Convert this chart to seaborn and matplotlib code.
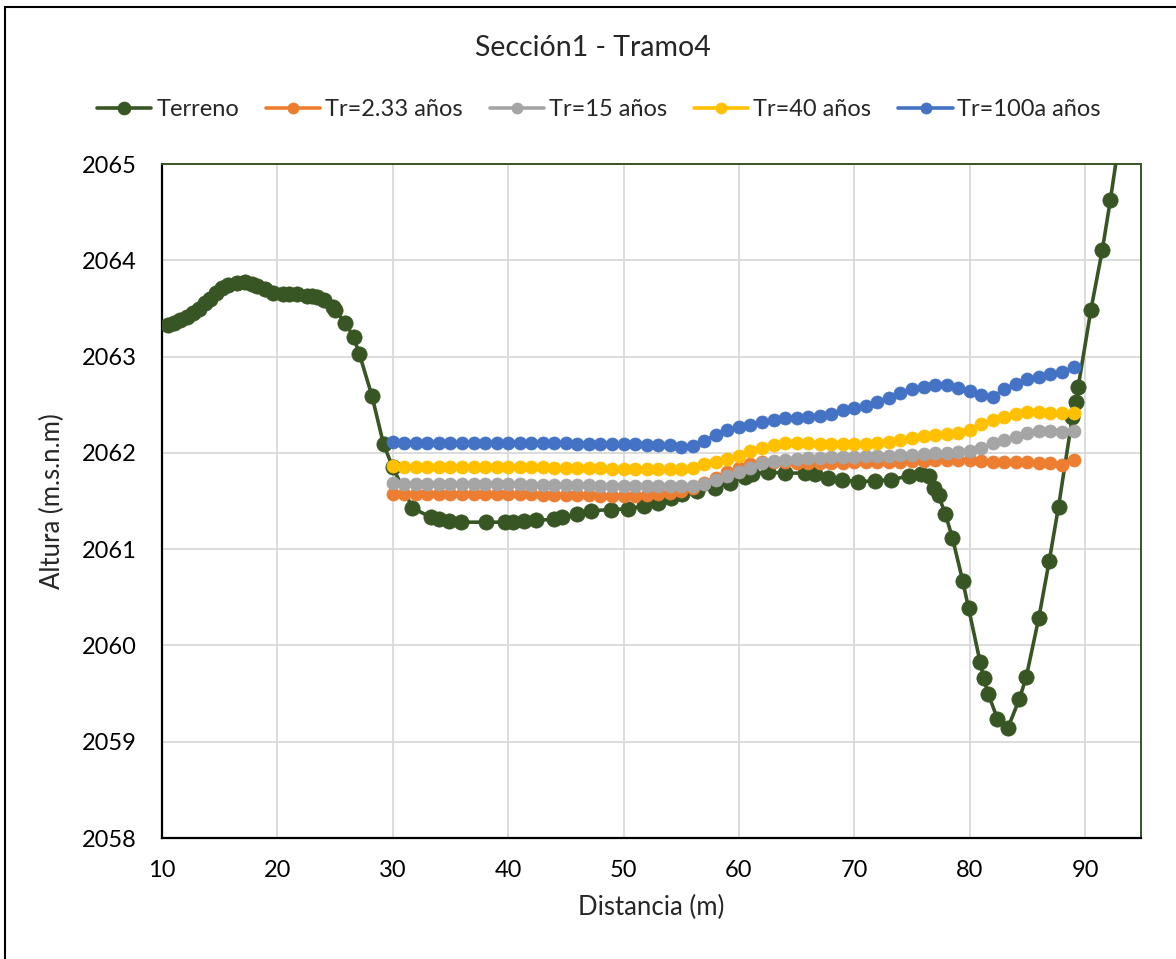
import matplotlib
matplotlib.use("Agg")
import matplotlib.pyplot as plt
import matplotlib.patches as mpatches
import seaborn as sns
import pandas as pd

# ---------------- data ----------------
title = "Sección1 - Tramo4"
series_names = ["Terreno", "Tr=2.33 años", "Tr=15 años", "Tr=40 años", "Tr=100a años"]
x_label = "Distancia (m)"
y_label = "Altura (m.s.n.m)"
x_ticks = [10, 20, 30, 40, 50, 60, 70, 80, 90]
y_ticks = [2058, 2059, 2060, 2061, 2062, 2063, 2064, 2065]

terreno_x = [10.5, 11.0, 11.6, 12.2, 12.7, 13.2, 13.7, 14.2, 14.7, 15.2, 15.7, 16.5, 17.2,
             17.8, 18.2, 18.9, 19.6, 20.5, 21.0, 21.7, 22.6, 23.0, 23.4, 24.0, 24.8, 25.0,
             25.9, 26.6, 27.1, 28.2, 29.2, 30.0, 31.7, 33.3, 34.0, 34.9, 35.9, 38.1, 39.7,
             40.4, 41.4, 42.4, 44.0, 44.7, 46.0, 47.2, 48.9, 50.4, 51.8, 53.0, 54.1, 55.1,
             56.4, 57.9, 59.2, 60.5, 61.1, 62.5, 64.0, 65.7, 66.6, 67.7, 68.9, 70.3, 71.8,
             73.2, 74.7, 75.8, 76.5, 76.9, 77.3, 77.9, 78.5, 79.4, 79.9, 80.9, 81.2, 81.6,
             82.4, 83.3, 84.3, 84.9, 86.0, 86.9, 87.7, 88.9, 89.2, 89.4, 90.5, 91.5, 92.2,
             93.4]
terreno_y = [2063.33, 2063.35, 2063.38, 2063.41, 2063.45, 2063.49, 2063.56, 2063.60, 2063.66,
             2063.71, 2063.74, 2063.76, 2063.77, 2063.75, 2063.73, 2063.70, 2063.66, 2063.65,
             2063.65, 2063.65, 2063.63, 2063.63, 2063.62, 2063.59, 2063.51, 2063.48, 2063.35,
             2063.20, 2063.03, 2062.59, 2062.09, 2061.85, 2061.43, 2061.33, 2061.31, 2061.29,
             2061.28, 2061.28, 2061.28, 2061.28, 2061.29, 2061.30, 2061.31, 2061.33, 2061.36,
             2061.40, 2061.41, 2061.42, 2061.45, 2061.48, 2061.53, 2061.57, 2061.60, 2061.64,
             2061.69, 2061.75, 2061.78, 2061.80, 2061.79, 2061.79, 2061.78, 2061.74, 2061.72,
             2061.70, 2061.71, 2061.72, 2061.76, 2061.78, 2061.76, 2061.64, 2061.56, 2061.36,
             2061.12, 2060.67, 2060.39, 2059.83, 2059.66, 2059.50, 2059.24, 2059.14, 2059.44,
             2059.67, 2060.29, 2060.88, 2061.44, 2062.37, 2062.53, 2062.68, 2063.48, 2064.11,
             2064.63, 2065.60]

water_x = [30, 31, 32, 33, 34, 35, 36, 37, 38, 39, 40, 41, 42, 43, 44, 45, 46, 47, 48, 49,
           50, 51, 52, 53, 54, 55, 56, 57, 58, 59, 60, 61, 62, 63, 64, 65, 66, 67, 68, 69,
           70, 71, 72, 73, 74, 75, 76, 77, 78, 79, 80, 81, 82, 83, 84, 85, 86, 87, 88, 89]

tr233_y = [2061.57, 2061.57, 2061.57, 2061.57, 2061.57, 2061.57, 2061.57, 2061.57, 2061.57, 2061.57,
           2061.57, 2061.57, 2061.57, 2061.56, 2061.56, 2061.56, 2061.56, 2061.56, 2061.55, 2061.55,
           2061.55, 2061.55, 2061.56, 2061.57, 2061.58, 2061.60, 2061.64, 2061.69, 2061.74, 2061.80,
           2061.84, 2061.88, 2061.91, 2061.91, 2061.90, 2061.89, 2061.89, 2061.89, 2061.89, 2061.89,
           2061.90, 2061.90, 2061.90, 2061.91, 2061.91, 2061.92, 2061.92, 2061.93, 2061.93, 2061.93,
           2061.93, 2061.92, 2061.91, 2061.90, 2061.90, 2061.90, 2061.89, 2061.89, 2061.87, 2061.93]

tr15_y = [2061.69, 2061.68, 2061.68, 2061.68, 2061.68, 2061.68, 2061.68, 2061.68, 2061.68, 2061.68,
          2061.68, 2061.68, 2061.67, 2061.67, 2061.67, 2061.67, 2061.67, 2061.67, 2061.66, 2061.66,
          2061.66, 2061.66, 2061.66, 2061.66, 2061.66, 2061.66, 2061.66, 2061.68, 2061.72, 2061.76,
          2061.80, 2061.84, 2061.89, 2061.92, 2061.93, 2061.94, 2061.95, 2061.95, 2061.96, 2061.96,
          2061.96, 2061.97, 2061.97, 2061.97, 2061.98, 2061.98, 2061.99, 2062.00, 2062.00, 2062.01,
          2062.02, 2062.05, 2062.10, 2062.13, 2062.16, 2062.21, 2062.23, 2062.23, 2062.22, 2062.23]

tr40_y = [2061.86, 2061.85, 2061.85, 2061.85, 2061.85, 2061.85, 2061.85, 2061.85, 2061.85, 2061.85,
          2061.85, 2061.85, 2061.85, 2061.85, 2061.84, 2061.84, 2061.84, 2061.84, 2061.84, 2061.83,
          2061.83, 2061.83, 2061.83, 2061.83, 2061.83, 2061.83, 2061.84, 2061.88, 2061.91, 2061.94,
          2061.97, 2062.02, 2062.05, 2062.08, 2062.10, 2062.10, 2062.10, 2062.09, 2062.09, 2062.09,
          2062.09, 2062.09, 2062.10, 2062.11, 2062.13, 2062.15, 2062.17, 2062.19, 2062.20, 2062.21,
          2062.24, 2062.30, 2062.34, 2062.37, 2062.40, 2062.42, 2062.42, 2062.41, 2062.41, 2062.41]

tr100_y = [2062.11, 2062.10, 2062.10, 2062.10, 2062.10, 2062.10, 2062.10, 2062.10, 2062.10, 2062.10,
           2062.10, 2062.10, 2062.10, 2062.10, 2062.10, 2062.10, 2062.09, 2062.09, 2062.09, 2062.09,
           2062.09, 2062.09, 2062.08, 2062.08, 2062.08, 2062.06, 2062.07, 2062.12, 2062.19, 2062.24,
           2062.27, 2062.29, 2062.32, 2062.34, 2062.36, 2062.36, 2062.37, 2062.38, 2062.40, 2062.44,
           2062.47, 2062.49, 2062.53, 2062.57, 2062.62, 2062.66, 2062.68, 2062.70, 2062.70, 2062.67,
           2062.64, 2062.60, 2062.58, 2062.66, 2062.72, 2062.77, 2062.79, 2062.82, 2062.84, 2062.89]

colors = ["#375623", "#ED7D31", "#A5A5A5", "#FFC000", "#4472C4"]

# ---------------- figure ----------------
sns.set_style("white")
plt.rcParams["font.family"] = ["Lato", "DejaVu Sans"]

W, H = 1176, 959
fig = plt.figure(figsize=(W / 100, H / 100), dpi=100)
ax = fig.add_axes([162 / W, 1 - 838 / H, (1141 - 162) / W, (838 - 164) / H])

frames = [
    pd.DataFrame({"x": terreno_x, "y": terreno_y}),
    pd.DataFrame({"x": water_x, "y": tr233_y}),
    pd.DataFrame({"x": water_x, "y": tr15_y}),
    pd.DataFrame({"x": water_x, "y": tr40_y}),
    pd.DataFrame({"x": water_x, "y": tr100_y}),
]
for i, (df, c) in enumerate(zip(frames, colors)):
    ms = 11 if i == 0 else 9.4
    lw = 2.6 if i == 0 else 2.6
    sns.lineplot(data=df, x="x", y="y", ax=ax, color=c, marker="o", markersize=ms,
                 markeredgecolor=c, markeredgewidth=0.5, linewidth=lw,
                 estimator=None, sort=False, legend=False, zorder=3 + i)

ax.set_xlim(10, 94.85)
ax.set_ylim(2058, 2065)
ax.set_xticks(x_ticks)
ax.set_yticks(y_ticks)
ax.grid(True, color="#D9D9D9", linewidth=1.3)
ax.set_axisbelow(True)
ax.tick_params(axis="both", length=0, labelsize=17, colors="black")
ax.tick_params(axis="y", pad=18)
ax.tick_params(axis="x", pad=16)
for s in ["left", "bottom"]:
    ax.spines[s].set_color("black")
    ax.spines[s].set_linewidth(1.6)
for s in ["top", "right"]:
    ax.spines[s].set_color("#375623")
    ax.spines[s].set_linewidth(1.4)

ax.set_xlabel(x_label, fontsize=18.5, labelpad=10)
ax.set_ylabel(y_label, fontsize=18.5, labelpad=12)

fig.text(593 / W, 1 - 48 / H, title, ha="center", va="center", fontsize=20.5)

handles = ax.get_lines()[:5]
fig.legend(handles, series_names, loc="center", bbox_to_anchor=(599 / W, 1 - 110 / H),
           ncol=5, frameon=False, fontsize=17, handlelength=2.3, handletextpad=0.2,
           columnspacing=1.15, markerscale=0.85)

# outer chart border (left/top visible)
fig.patches.append(mpatches.Rectangle((5 / W, -0.1), 1.2, 1 - 7 / H + 0.1,
                                      transform=fig.transFigure, fill=False,
                                      edgecolor="black", linewidth=1.5))

fig.savefig("out.png", dpi=100)
